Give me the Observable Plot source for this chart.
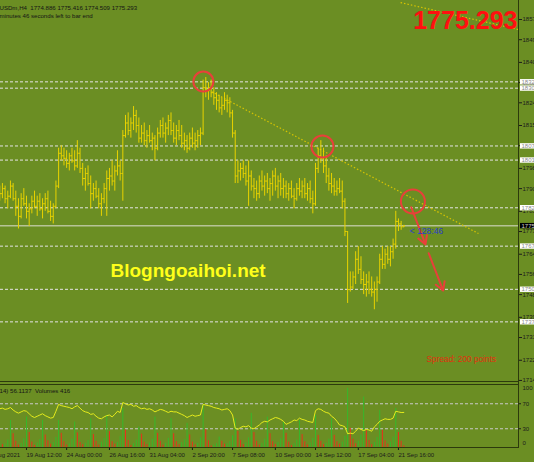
<!DOCTYPE html>
<html><head><meta charset="utf-8">
<script src="https://cdn.jsdelivr.net/npm/d3@7"></script>
<script src="https://cdn.jsdelivr.net/npm/@observablehq/plot@0.6"></script>
<style>
html,body{margin:0;padding:0;background:#6b8e23;}
#wrap{position:relative;width:534px;height:462px;overflow:hidden;background:#6b8e23;font-family:"Liberation Sans",Arial,sans-serif;}
#wrap svg{position:absolute;left:0;}
.line{position:absolute;background:#2c3a0c;}
</style></head><body><div id="wrap"></div>
<script>
// ---------- data ----------
const firstOpen = 1786;
const high = [1791,1792,1791,1789,1793,1792,1789,1786,1788,1790,
1787,1784,1787,1789,1787,1788,1786,1788,1789,1785,
1784,1793,1806,1807,1806,1805,1804,1806,1805,1809,
1806,1800,1798,1799,1795,1792,1793,1790,1788,1792,
1797,1798,1801,1799,1805,1801,1813,1819,1820,1818,
1822.5,1821,1818,1815,1816,1813,1815,1812,1811,1814,
1817,1818,1816,1819,1820,1816,1815,1817,1815,1812,
1811,1812,1814,1812,1813,1814,1833,1834,1832,1833,
1830,1828,1827,1826,1828,1827,1826,1821,1813,1801,
1800,1801,1799,1801,1797,1794,1793,1795,1797,1795,
1796,1794,1797,1798,1795,1796,1794,1793,1792,1793,
1790,1792,1794,1793,1794,1792,1793,1789,1800,1806,
1809,1806,1803,1798,1796,1794,1793,1794,1793,1786,
1773,1757,1757,1765,1767,1763,1757,1756,1757,1755,
1753,1755,1764,1767,1766,1767,1767,1770,1781,1778,
1777,1775.416];
const low = [1785,1786,1784,1782,1786,1785,1779,1774,1778,1783,
1778,1775,1780,1782,1779,1781,1778,1781,1780,1777,
1776,1782,1790,1801,1799,1798,1797,1800,1797,1798,
1796,1791,1789,1791,1782,1785,1786,1782,1779,1784,
1779,1789,1791,1789,1795,1793,1785,1810,1811,1810,
1813,1812,1808,1808,1807,1806,1808,1805,1801,1805,
1810,1810,1808,1811,1811,1808,1807,1809,1806,1805,
1804,1805,1806,1805,1806,1807,1811,1826,1825,1826,
1823,1821,1820,1819,1821,1820,1818,1810,1792,1792,
1793,1794,1791,1783,1789,1786,1785,1786,1789,1787,
1788,1785,1787,1789,1786,1787,1786,1786,1785,1786,
1782,1785,1787,1786,1786,1785,1784,1780,1783,1796,
1800,1796,1792,1789,1788,1787,1787,1788,1782,1771,
1744.5,1749,1750,1752,1756,1752,1748,1747,1748,1747,
1742,1745,1752,1758,1758,1760,1759,1762,1766,1773,
1773.5,1774.509];
const close = [1788,1790,1786,1787,1791,1786,1783,1779,1786,1784,
1781,1782,1785,1783,1785,1782,1784,1786,1781,1779,
1783,1791,1804,1803,1802,1800,1803,1801,1799,1804,
1798,1794,1796,1792,1788,1790,1787,1784,1786,1790,
1794,1795,1793,1797,1799,1796,1811,1816,1813,1816,
1819,1815,1810,1812,1809,1811,1809,1810,1806,1812,
1815,1812,1814,1817,1813,1810,1813,1811,1808,1809,
1806,1810,1808,1809,1811,1812,1830,1829,1830,1828,
1826,1825,1822,1823,1825,1824,1820,1812,1795,1797,
1798,1796,1793,1795,1791,1790,1788,1793,1791,1793,
1790,1792,1795,1791,1793,1790,1791,1788,1790,1787,
1786,1790,1789,1791,1788,1790,1786,1784,1798,1803,
1802,1799,1795,1792,1791,1789,1790,1789,1785,1773,
1750,1751,1755,1762,1758,1754,1752,1753,1750,1749,
1750,1753,1762,1760,1764,1762,1765,1768,1777,1776,
1774.886,1775.293];
const volume = [1400,700,900,1800,6500,3300,1500,600,1000,2100,
7300,3600,1300,500,1100,1900,6500,3000,1600,800,
1200,2400,6500,3400,1400,600,900,2000,6100,3500,
1200,700,1000,1700,6900,3100,1500,600,1300,2200,
7700,3800,1400,800,1200,2600,9400,4200,1700,500,
900,1800,4900,3200,1300,700,1100,2000,7300,3400,
1500,600,1000,2200,6900,3300,1400,700,1200,1900,
5800,3000,1300,600,1000,2300,10100,4300,1600,400,
600,900,2500,1500,800,900,1400,2800,6900,3900,
1700,700,1100,2300,8200,3600,1500,600,1000,2000,
7300,3300,1400,700,1200,2100,6100,3400,1300,500,
900,1800,6500,3100,1400,600,1100,2200,7700,2900,
1500,700,1000,2000,6900,2900,1400,800,1300,2700,
14200,4600,2000,900,1500,3000,12100,4000,1700,700,
1200,2400,8900,4100,1600,800,1300,2500,9400,3600,
1500,416];
const rsi = [62,63,61,62,64,60,57,55,57,59,
58,54,50,48,50,52,54,51,49,47,
48,58,69,67,66,65,64,62,65,67,
63,59,57,56,53,54,50,47,46,49,
51,52,49,53,58,56,72,70,68,69,
66,67,64,62,63,61,62,60,57,59,
61,60,58,56,58,57,57,55,53,51,
48,50,52,50,51,52,69,68,67,66,
64,63,62,60,61,62,59,52,31,29,
32,34,33,35,31,30,33,36,40,42,
41,44,46,48,47,45,42,37,39,41,
44,43,47,45,44,42,41,40,59,62,
61,58,56,55,50,47,42,36,35,33,
22,23,22,26,31,29,27,29,28,26,
33,37,42,44,46,45,45,47,58,57,
56,56.1137];

const priceTicks = [1857,1849,1840,1832,1824,1815,1807,1798,1790,1781,1773,1764,1756,1748,1739,1731,1722,1714];
const levelValues = [1832.3,1829.8,1806.9,1801.3,1782.4,1767.2,1750.1,1737.2];
const levelLabels = ["1832","1830","1807","1801","1782","1767","1750","1737"];
const timeTicks = [-5,10,25,41,56,72,87,103,118,134,149];
const timeLabels = ["17 Aug 2021","19 Aug 12:00","24 Aug 00:00","26 Aug 16:00","31 Aug 04:00","2 Sep 20:00","7 Sep 08:00","10 Sep 00:00","14 Sep 12:00","17 Sep 04:00","21 Sep 16:00"];
const rsiLevels = [70,30];
const trendLines = [
  {x1:76.9, y1:1829.7, x2:178.9, y2:1772.2},
  {x1:149.8, y1:1863.7, x2:193.9, y2:1853.0}
];
const circles = [{x:76.1,y:1832.4,r:10},{x:120.6,y:1806.7,r:11},{x:154.4,y:1784.9,r:12}];
const arrows = [
  {x1:153.8,y1:1782.6,x2:159.1,y2:1767.9},
  {x1:160.3,y1:1764.4,x2:165.7,y2:1749.6}
];
const header1 = "USDm,H4\u00a0 1774.886 1775.416 1774.509 1775.293";
const header2 = "minutes 46 seconds left to bar end";
const bigPrice = "1775.293";
const watermark = "Blogngoaihoi.net";
const countdown = "< 128:46";
const spreadText = "Spread: 200 points";
const panelLabel = "(14) 56.1137\u00a0 Volumes 416";
const volumeScale = 150; // ticks per panel unit

// ---------- derived tables ----------
const bars = close.map((c, i) => ({i, open: i ? close[i-1] : firstOpen, high: high[i], low: low[i], close: c}));
const vols = volume.map((v, i) => ({i, v: v / volumeScale, up: i === 0 || v > volume[i-1]}));
const rsiData = rsi.map((v, i) => ({i, v}));
const last = bars[bars.length - 1];
const levels = levelValues.map((v, k) => ({v, label: levelLabels[k]}));
const timeLabelMap = new Map(timeTicks.map((t, k) => [t, timeLabels[k]]));

const W = 534;
const xDomain = [0.284, 193.86];
const font = "Liberation Sans, Arial, sans-serif";
const barColor = "#e8d200";
const red = "#e8403a";

const wrap = document.getElementById("wrap");

// ---------- main price panel ----------
const main = Plot.plot({
  width: W, height: 382,
  marginLeft: 0, marginRight: 16, marginTop: 0, marginBottom: 0,
  x: {domain: xDomain, axis: null},
  y: {domain: [1713.18, 1864.53], axis: null},
  r: {type: "identity"},
  style: {background: "transparent", fontFamily: font, fontSize: "6px", color: "#1c1c1c", overflow: "hidden"},
  marks: [
    Plot.ruleY(levels, {y: "v", stroke: "#e4e4e4", strokeDasharray: "3,2", strokeWidth: 1}),
    Plot.ruleY([last.close], {stroke: "#b7c396", strokeWidth: 1.5}),
    Plot.text([watermark], {frameAnchor: "top-left", dx: 110, dy: 276, lineAnchor: "bottom", textAnchor: "start",
      fontSize: 19, fontWeight: "bold", fill: "#ffff1a", text: d => d}),
    Plot.link(trendLines, {x1: "x1", y1: "y1", x2: "x2", y2: "y2", stroke: "#d8c400", strokeDasharray: "1.5,2", strokeWidth: 1.2}),
    Plot.ruleX(bars, {x: "i", y1: "low", y2: "high", stroke: barColor, strokeWidth: 1}),
    Plot.link(bars, {x1: d => d.i - 0.5, x2: "i", y1: "open", y2: "open", stroke: barColor, strokeWidth: 1}),
    Plot.link(bars, {x1: "i", x2: d => d.i + 0.5, y1: "close", y2: "close", stroke: barColor, strokeWidth: 1}),
    Plot.dot(circles, {x: "x", y: "y", r: "r", stroke: red, strokeWidth: 2, fill: "none"}),
    Plot.arrow(arrows, {x1: "x1", y1: "y1", x2: "x2", y2: "y2", stroke: red, strokeWidth: 2, headLength: 7}),
    Plot.text([last], {x: "i", y: "close", text: () => countdown, dx: 6, dy: 6, textAnchor: "start", fontSize: 8.5, fill: "#2a3ccc"}),
    Plot.text([spreadText], {frameAnchor: "top-left", dx: 426, dy: 361, lineAnchor: "bottom", textAnchor: "start", fontSize: 8.3, fill: "#e2300e", text: d => d}),
    Plot.text([header1], {frameAnchor: "top-left", dx: -1, dy: 9.5, lineAnchor: "bottom", textAnchor: "start", fontSize: 6.1, fill: "#151515", text: d => d}),
    Plot.text([header2], {frameAnchor: "top-left", dx: -1, dy: 17, lineAnchor: "bottom", textAnchor: "start", fontSize: 6.1, fill: "#151515", text: d => d}),
    Plot.text([bigPrice], {frameAnchor: "top-right", dx: -1, dy: 28, lineAnchor: "bottom", textAnchor: "end", fontSize: 25, fontWeight: "bold", fill: "#ff1010", text: d => d}),
    Plot.axisY(priceTicks, {anchor: "right", tickSize: 3, tickPadding: 1, tickFormat: d => `${d}`, fontSize: 6, label: null}),
    Plot.text(levels, {y: "v", text: "label", frameAnchor: "right", dx: 3, textAnchor: "start", fontSize: 6, fill: "#8a8a8a", className: "hl"}),
    Plot.text([last], {y: "close", text: d => String(Math.floor(d.close)), frameAnchor: "right", dx: 3, textAnchor: "start", fontSize: 6, fill: "#d0d0d0", className: "cur"})
  ]
});
main.style.top = "0px";
wrap.appendChild(main);

function boxes(svg, cls, fill) {
  d3.select(svg).selectAll(`g.${cls} text`).each(function() {
    const b = this.getBBox();
    const r = document.createElementNS("http://www.w3.org/2000/svg", "rect");
    r.setAttribute("x", b.x - 1.5);
    r.setAttribute("y", b.y + 0.3);
    r.setAttribute("width", 20);
    r.setAttribute("height", b.height - 0.6);
    r.setAttribute("fill", fill);
    const t = this.getAttribute("transform");
    if (t) r.setAttribute("transform", t);
    this.parentNode.insertBefore(r, this);
  });
}
boxes(main, "hl", "#ffffff");
boxes(main, "cur", "#000000");

// ---------- indicator panel ----------
const lower = Plot.plot({
  width: W, height: 78,
  marginLeft: 0, marginRight: 16, marginTop: 0.5, marginBottom: 15,
  x: {domain: xDomain, axis: null},
  y: {domain: [0, 100], axis: null},
  style: {background: "transparent", fontFamily: font, fontSize: "6px", color: "#1c1c1c", overflow: "hidden"},
  marks: [
    Plot.ruleY(rsiLevels, {stroke: "#c9c9c9", strokeDasharray: "3,2", strokeWidth: 1}),
    Plot.ruleX(vols, {x: "i", y1: 0, y2: "v", stroke: d => d.up ? "#36b82b" : "#e8321a", strokeWidth: 1}),
    Plot.line(rsiData, {x: "i", y: "v", stroke: "#e6ec1c", strokeWidth: 1}),
    Plot.text([panelLabel], {frameAnchor: "top-left", dx: -3, dy: 8, lineAnchor: "bottom", textAnchor: "start", fontSize: 6.1, fill: "#151515", text: d => d}),
    Plot.axisX(timeTicks, {anchor: "bottom", tickSize: 3, tickPadding: 2, textAnchor: "start", dx: 0, tickFormat: d => timeLabelMap.get(d), fontSize: 6, label: null}),
    Plot.axisY([70, 30], {anchor: "right", tickSize: 2, tickPadding: 2, tickFormat: d => `${d}`, fontSize: 6, label: null}),
    Plot.axisY([100], {anchor: "right", tickSize: 0, tickPadding: 4, tickFormat: d => `${d}`, fontSize: 6, dy: 3.5, label: null}),
    Plot.axisY([0], {anchor: "right", tickSize: 0, tickPadding: 4, tickFormat: d => `${d}`, fontSize: 6, dy: -4, label: null})
  ]
});
lower.style.top = "384px";
wrap.appendChild(lower);

// frame lines
function line(l, t, w, h) { const d = document.createElement("div"); d.className = "line"; Object.assign(d.style, {left: l + "px", top: t + "px", width: w + "px", height: h + "px"}); wrap.appendChild(d); }
line(518, 0, 1, 447);
line(0, 381, 519, 1);
line(0, 383.5, 519, 1.2);
line(0, 447, 519, 1);
</script>
</body></html>
